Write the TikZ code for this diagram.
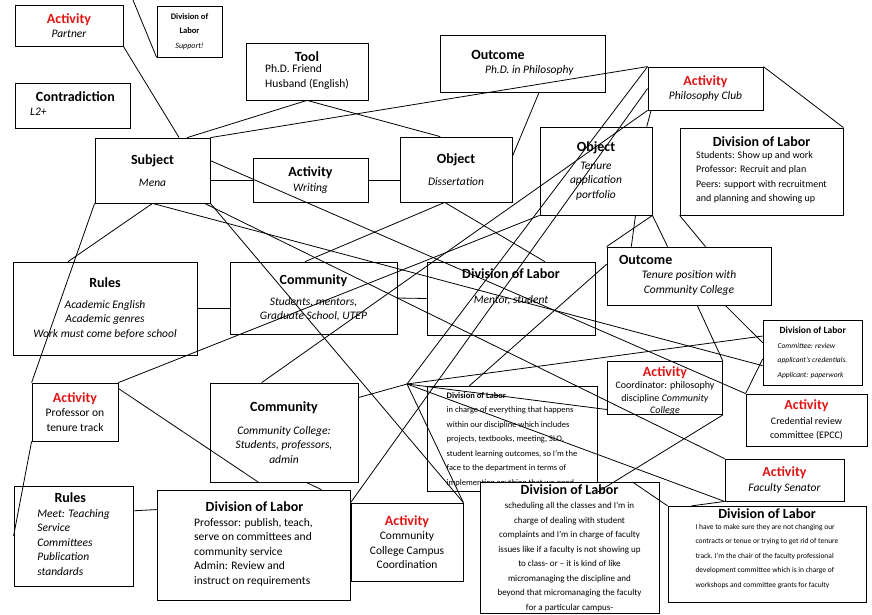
\documentclass[tikz,border=0pt]{standalone}
\usepackage{fontspec}
\setmainfont{Carlito}
\usetikzlibrary{calc}
\definecolor{actred}{RGB}{225,20,20}
\newcommand{\bx}[6]{\node[box,minimum width={#4-#2},minimum height={#5-#3}] (#1) at ({(#2+#4)/2},{(#3+#5)/2}) {#6};}
\newcommand{\ttl}[1]{{\fontsize{14}{16}\selectfont\bfseries #1}}
\newcommand{\act}{{\fontsize{14}{16}\selectfont\bfseries\color{actred}Activity}}
\begin{document}
\begin{tikzpicture}[x=1pt,y=-1pt,
  box/.style={draw,thick,fill=white,inner sep=2pt,align=center,font=\fontsize{11.5}{14.5}\selectfont},
  ln/.style={thick}]
\useasboundingbox (0,0) rectangle (872,614);
\coordinate (topA) at (133,0);
\coordinate (hub) at (407,384);
% boxes
\bx{partner}{15}{5}{123}{46}{\act\\ \textit{Partner}}
\bx{sup}{157}{6}{222}{57}{\fontsize{8.5}{11}\selectfont\bfseries Division of\\ \fontsize{8.5}{11}\selectfont\bfseries Labor\\ \fontsize{8}{10}\selectfont\itshape Support!}
\bx{tool}{246}{43}{368}{100}{\ttl{Tool}\\ \begin{tabular}{@{}l@{}}Ph.D. Friend\\ Husband (English)\end{tabular}}
\bx{outc1}{440}{35}{605}{92}{\begin{tabular}{@{}l@{}}\ttl{Outcome}\\ \hspace{1.2em}\textit{Ph.D. in Philosophy}\end{tabular}}
\bx{contra}{15}{83}{130}{128}{\begin{tabular}{@{}l@{}}\hspace{0.5em}\ttl{Contradiction}\\ \textit{L2+}\end{tabular}}
\bx{subj}{95}{138}{210}{203}{\ttl{Subject}\\[8pt] \textit{Mena}}
\bx{writ}{253}{158}{368}{202}{\ttl{Activity}\\ \textit{Writing}}
\bx{obj1}{400}{137}{512}{202}{\ttl{Object}\\[8pt] \textit{Dissertation}}
\bx{phil}{648}{67}{763}{110}{\act\\ \textit{Philosophy Club}}
\bx{tenure}{540}{127}{652}{215}{\ttl{Object}\\[3pt] \textit{Tenure}\\ \textit{application}\\ \textit{portfolio}}
\bx{dol2}{680}{128}{843}{215}{\ttl{Division of Labor}\\ \begin{tabular}{@{}l@{}}\fontsize{10}{13}\selectfont Students: Show up and work\\ \fontsize{10}{13}\selectfont Professor: Recruit and plan\\ \fontsize{10}{13}\selectfont Peers: support with recruitment\\ \fontsize{10}{13}\selectfont and planning and showing up\end{tabular}}
\bx{rules1}{13}{262}{197}{355}{\ttl{Rules}\\[6pt] \textit{Academic English}\\ \textit{Academic genres}\\ \textit{Work must come before school}}
\bx{comm1}{230}{262}{397}{334}{\ttl{Community}\\[6pt] \textit{Students, mentors,}\\ \textit{Graduate School, UTEP}}
\bx{dol1}{427}{262}{595}{335}{\ttl{Division of Labor}\\[10pt] \textit{Mentor, student}\\[10pt]}
\bx{outc2}{607}{247}{771}{305}{\begin{tabular}{@{}c@{}}\makebox[140pt][l]{\ttl{Outcome}}\\ \textit{Tenure position with}\\ \textit{Community College}\end{tabular}}
\bx{committee}{763}{320}{862}{385}{\begin{tabular}{@{}l@{}}\hspace{2pt}{\fontsize{9.5}{11}\selectfont\bfseries Division of Labor}\\ \fontsize{7.5}{9}\selectfont\itshape Committee: review\\ \fontsize{7.5}{9}\selectfont\itshape applicant's credentials.\\ \fontsize{7.5}{9}\selectfont\itshape Applicant: paperwork\end{tabular}}
\bx{prof}{32}{383}{118}{441}{\act\\ Professor on\\ tenure track}
\bx{comm2}{210}{383}{358}{482}{\ttl{Community}\\[8pt] \textit{Community College:}\\ \textit{Students, professors,}\\ \textit{admin}}
\bx{dol3}{427}{396}{597}{482}{\begin{tabular}{@{}l@{}}\fontsize{8.5}{10.5}\selectfont\bfseries Division of Labor\\ \fontsize{8.5}{10.5}\selectfont in charge of everything that happens\\ \fontsize{8.5}{10.5}\selectfont within our discipline which includes\\ \fontsize{8.5}{10.5}\selectfont projects, textbooks, meeting, SLO,\\ \fontsize{8.5}{10.5}\selectfont student learning outcomes, so I'm the\\ \fontsize{8.5}{10.5}\selectfont face to the department in terms of\\ \fontsize{8.5}{10.5}\selectfont implementing anything that we need\end{tabular}}
\node[box,minimum width=115,minimum height=53,inner sep=0pt,path picture={\node[align=center,font=\fontsize{10}{12.5}\selectfont] at ([yshift=-3pt]path picture bounding box.center) {\act\\ Coordinator: philosophy\\ discipline \textit{Community}\\ \textit{College}};}] (coord) at (665,388) {};
\bx{cred}{746}{394}{867}{446}{\act\\ \fontsize{10}{12.5}\selectfont Credential review\\ \fontsize{10}{12.5}\selectfont committee (EPCC)}
\bx{senator}{725}{459}{844}{501}{\act\\ \textit{Faculty Senator}}
\bx{rules2}{14}{486}{133}{586}{\begin{tabular}{@{}l@{}}\hspace{1.5em}\ttl{Rules}\\ \textit{Meet: Teaching}\\ \textit{Service}\\ \textit{Committees}\\ \textit{Publication}\\ \textit{standards}\end{tabular}}
\bx{dol4}{157}{490}{350}{600}{\begin{tabular}{@{}l@{}}\hspace{1em}\ttl{Division of Labor}\\ Professor: publish, teach,\\ serve on committees and\\ community service\\ Admin: Review and\\ instruct on requirements\end{tabular}}
\bx{camp}{351}{503}{463}{581}{\act\\ Community\\ College Campus\\ Coordination}
\bx{dol4b}{480}{487}{659}{609}{\ttl{Division of Labor}\\ \fontsize{9}{11.5}\selectfont scheduling all the classes and I'm in\\ \fontsize{9}{11.5}\selectfont charge of dealing with student\\ \fontsize{9}{11.5}\selectfont complaints and I'm in charge of faculty\\ \fontsize{9}{11.5}\selectfont issues like if a faculty is not showing up\\ \fontsize{9}{11.5}\selectfont to class- or -- it is kind of like\\ \fontsize{9}{11.5}\selectfont micromanaging the discipline and\\ \fontsize{9}{11.5}\selectfont beyond that micromanaging the faculty\\ \fontsize{9}{11.5}\selectfont for a particular campus-}
\bx{dol5}{668}{512}{866}{597}{\ttl{Division of Labor}\\ \begin{tabular}{@{}l@{}}\fontsize{7.5}{10}\selectfont I have to make sure they are not changing our\\ \fontsize{7.5}{10}\selectfont contracts or tenue or trying to get rid of tenure\\ \fontsize{7.5}{10}\selectfont track. I'm the chair of the faculty professional\\ \fontsize{7.5}{10}\selectfont development committee which is in charge of\\ \fontsize{7.5}{10}\selectfont workshops and committee grants for faculty\end{tabular}\\[8pt]}
\begin{scope}[ln]
\draw (topA) -- (sup.south west);
\draw (partner.south east) -- ($(subj.north west)!0.73!(subj.north east)$);
\draw (tool.south) -- ($(subj.north west)!0.8!(subj.north east)$);
\draw (tool.south) -- ($(obj1.north west)!0.36!(obj1.north east)$);
\draw (subj.north east) -- (phil.north west);
\draw ($(outc1.south west)!0.6!(outc1.south east)$) -- ($(obj1.north east)!0.3!(obj1.south east)$);
\draw (subj.east |- writ.east) -- (writ.west);
\draw (writ.east) -- (obj1.west |- writ.east);
\draw ($(subj.north east)!0.35!(subj.south east)$) -- (cred.north west);
\draw (subj.south east) -- (camp.north east);
\draw (subj.south) -- ($(committee.north west)!0.7!(committee.south west)$);
\draw ($(subj.south west)!0.95!(subj.south east)$) -- (senator.north west);
\draw (subj.south west) -- (prof.north west);
\draw (subj.south) -- ($(rules1.north west)!0.3!(rules1.north east)$);
\draw (prof.south west) -- ($(rules2.north west)!0.5!(rules2.south west)$);
\draw (rules1.east) -- (comm1.west |- rules1.east);
\draw ($(comm1.north east)!0.5!(comm1.south east)$) -- ($(dol1.north west)!0.5!(dol1.south west)$);
\draw (prof.north east) -- (tenure.south west);
\draw ($(prof.north east)!0.1!(prof.south east)$) -- ($(comm2.south west)!0.33!(comm2.south east)$);
\draw ($(obj1.south west)!0.4!(obj1.south east)$) -- ($(comm1.north west)!0.45!(comm1.north east)$);
\draw ($(obj1.south west)!0.4!(obj1.south east)$) -- ($(dol1.north west)!0.7!(dol1.north east)$);
\draw (phil.north west) -- (hub);
\draw (phil.west) -- (camp.north west);
\draw (phil.south west) -- ($(comm2.north west)!0.35!(comm2.north east)$);
\draw ($(phil.south west)!0.03!(phil.south east)$) -- ($(tenure.north west)!0.95!(tenure.north east)$);
\draw (phil.north east) -- (dol2.north east);
\draw (dol2.south west) -- ($(outc2.north west)!0.6!(outc2.north east)$);
\draw ($(tenure.south west)!0.85!(tenure.south east)$) -- ($(outc2.north west)!0.15!(outc2.north east)$);
\draw (tenure.south east) -- ($(outc2.north west)!0.37!(outc2.north east)$);
\draw (tenure.south east) -- (outc2.north west);
\draw ($(outc2.north west)!0.3!(outc2.south west)$) -- ($(dol3.north west)!0.25!(dol3.north east)$);
\draw ($(outc2.south west)!0.55!(outc2.south east)$) -- (coord.north east);
\draw ($(outc2.south west)!0.72!(outc2.south east)$) -- ($(committee.north west)!0.35!(committee.south west)$);
\draw ($(committee.north west)!0.6!(committee.south west)$) -- (cred.north west);
\draw ($(comm2.north east)!0.15!(comm2.south east)$) -- (hub);
\draw (hub) -- ($(committee.north west)!0.25!(committee.south west)$);
\draw (hub) -- ($(coord.north west)!0.9!(coord.south west)$);
\draw (hub) -- (camp.north east);
\draw (hub) -- (senator.south west);
\draw (coord.south east) -- (dol3.south east);
\draw (senator.south west) -- ($(dol5.north west)!0.12!(dol5.north east)$);
\draw ($(dol4b.north west)!0.85!(dol4b.north east)$) -- (dol5.north west);
\draw ($(comm2.south west)!0.65!(comm2.south east)$) -- ($(dol4.north west)!0.85!(dol4.north east)$);
\draw ($(rules2.north east)!0.25!(rules2.south east)$) -- ($(dol4.north west)!0.18!(dol4.south west)$);
\end{scope}
\end{tikzpicture}
\end{document}
